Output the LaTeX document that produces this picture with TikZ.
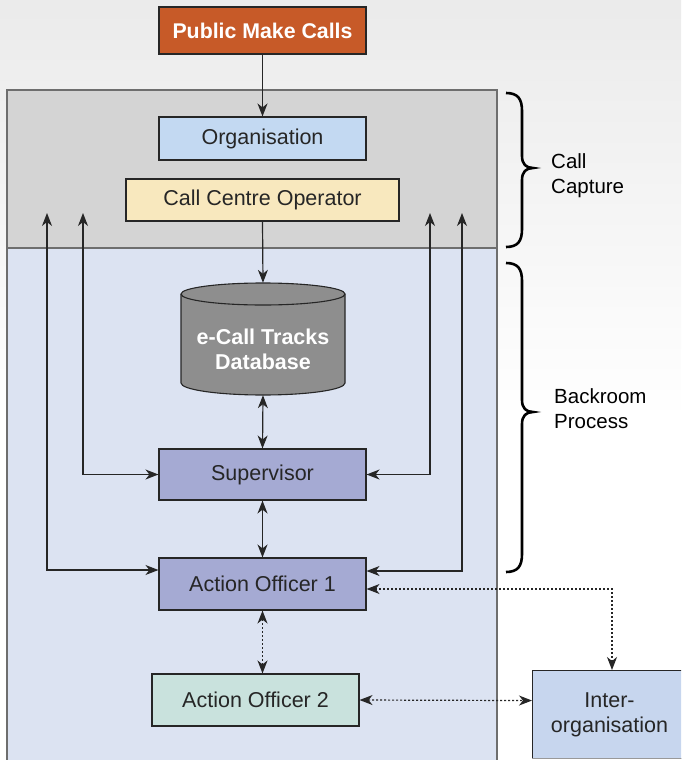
\documentclass[tikz,border=0pt]{standalone}
\usepackage{fontspec}
\setmainfont{Liberation Sans}
\usetikzlibrary{arrows.meta}
\definecolor{pubc}{HTML}{C75A28}
\definecolor{capc}{HTML}{D4D4D4}
\definecolor{backc}{HTML}{DCE3F2}
\definecolor{orgc}{HTML}{C3D9F2}
\definecolor{ccoc}{HTML}{F8E8BE}
\definecolor{dbc}{HTML}{8E8E8E}
\definecolor{supc}{HTML}{A5AAD3}
\definecolor{ao2c}{HTML}{C9E2DD}
\definecolor{interc}{HTML}{C7D6EE}
\definecolor{edgec}{HTML}{6E6E6E}
\tikzset{
  box/.style={draw=black!85, line width=1.1pt, minimum width=207pt, minimum height=43pt,
    inner sep=0pt, font=\fontsize{21.5}{25}\selectfont, text=black!85},
  tipa/.tip={Stealth[length=13pt,width=10pt,inset=4pt]},
  arr/.style={line width=1.2pt, draw=black!85, -tipa},
  darr/.style={line width=1.2pt, draw=black!85, tipa-tipa},
  dotarr/.style={darr, dash pattern=on 2pt off 2pt},
  bracec/.style={line width=2.6pt, draw=black},
  lbl/.style={font=\fontsize{20.5}{25}\selectfont, align=left, anchor=west, inner sep=0pt}
}
\begin{document}
\begin{tikzpicture}[x=1pt,y=-1pt]
\useasboundingbox (0,0) rectangle (681,760);
\clip (0,0) rectangle (681,760);
\shade[top color=black!8, bottom color=white] (0,0) rectangle (681,420);
\fill[white] (0,420) rectangle (681,760);
% regions
\filldraw[fill=capc, draw=edgec, line width=1.1pt] (7,90) rectangle (497,248);
\filldraw[fill=backc, draw=edgec, line width=1.1pt] (7,248) rectangle (497,780);
% nodes
\node[box, fill=pubc, minimum width=207pt, minimum height=47pt, text=white,
  font=\fontsize{21.3}{25}\selectfont\bfseries] (pub) at (262.5,30.5) {Public Make Calls};
\node[box, fill=orgc] (org) at (262.5,138.5) {Organisation};
\node[box, fill=ccoc, minimum width=273pt, minimum height=42pt] (cco) at (262.5,200) {Call Centre Operator};
% database cylinder
\node[minimum width=164pt, minimum height=112pt, inner sep=0pt] (db) at (263,339) {};
\filldraw[fill=dbc, draw=black!85, line width=1.1pt]
  (181,294) -- (181,383) arc[start angle=180, end angle=0, x radius=82, y radius=12]
  -- (345,294) arc[start angle=0, end angle=-180, x radius=82, y radius=11] -- cycle;
\draw[black!85, line width=1.1pt] (181,294) arc[start angle=180, end angle=0, x radius=82, y radius=11];
\node[align=center, text=white, font=\fontsize{21.5}{25}\selectfont\bfseries] (dbtext) at (263,349) {e-Call Tracks\\Database};
\node[box, fill=supc, minimum height=51pt] (sup) at (262.5,474.5) {Supervisor};
\node[box, fill=supc, minimum height=52pt] (ao1) at (262.5,584) {Action Officer 1};
\node[box, fill=ao2c, minimum height=52pt] (ao2) at (255.5,700) {Action Officer 2};
\node[box, fill=interc, draw=black!85, minimum width=154pt, minimum height=88pt, align=center,
  anchor=north west] (inter) at (532,670) {Inter-\\organisation};
\draw[black!40, line width=1pt] (532,758) -- (690,758);
% arrows
\draw[arr] (pub.south) -- (org.north);
\draw[arr] (cco.south) -- (db.north);
\draw[darr] (db.south) -- (sup.north);
\draw[darr] (sup.south) -- (ao1.north);
\draw[dotarr] (ao1.south) -- (ao1.south |- ao2.north);
\coordinate (lo) at (47,213);
\coordinate (li) at (83,213);
\coordinate (ri) at (430,213);
\coordinate (ro) at (462,213);
\draw[darr] (lo) |- ([yshift=14pt]ao1.west);
\draw[darr] (li) |- (sup.west);
\draw[darr] (ri) |- (sup.east);
\draw[darr] (ro) |- ([yshift=13pt]ao1.east);
\coordinate (itop) at (612,670);
\draw[dotarr] ([yshift=-5pt]ao1.east) -| (itop);
\draw[dotarr] (ao2.east) -- ([yshift=14pt]inter.west);
% braces
\draw[bracec] (506,93) .. controls (518,93) and (522,99) .. (522,111) -- (522,156)
  .. controls (522,164) and (526,168) .. (533,168)
  .. controls (526,168) and (522,172) .. (522,180) -- (522,229)
  .. controls (522,241) and (518,247) .. (506,247);
\draw[bracec] (506,263) .. controls (518,263) and (522,269) .. (522,281) -- (522,400)
  .. controls (522,408) and (526,412) .. (533,412)
  .. controls (526,412) and (522,416) .. (522,424) -- (522,554)
  .. controls (522,566) and (518,572) .. (506,572);
\node[lbl] (cap) at (551,175.5) {Call\\Capture};
\node[lbl] (back) at (554,409) {Backroom\\Process};
\end{tikzpicture}
\end{document}
